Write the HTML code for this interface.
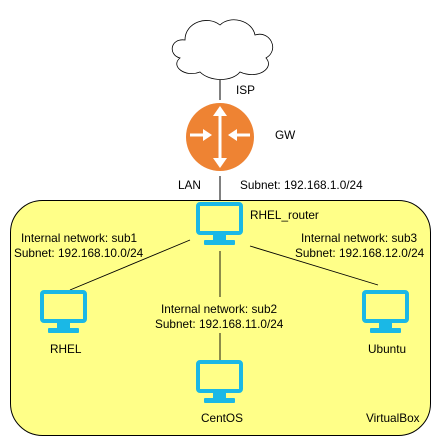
<!DOCTYPE html>
<html><head><style>
body{margin:0;width:441px;height:441px;background:#fff;overflow:hidden}
svg{display:block}
text{font-family:"Liberation Sans",sans-serif;font-size:11.8px;fill:#000}
</style></head><body>
<svg width="441" height="441" viewBox="0 0 441 441">
<rect x="10.5" y="200.5" width="420" height="235" rx="32" fill="#ffff88" stroke="#000" stroke-width="1"/>
<path d="M185,40 C170,38 168,55 180,58 C170,66 185,78 200,72 C210,82 232,82 240,72 C258,80 275,68 266,58 C280,50 270,30 255,35 C252,20 230,15 220,25 C208,15 185,22 185,40 Z" fill="#fff" stroke="#000" stroke-width="0.8"/>
<line x1="220" y1="80" x2="220" y2="100" stroke="#000"/>
<text x="236" y="94">ISP</text>
<circle cx="220" cy="137" r="34" fill="#ee8333"/>
<g fill="#fff" stroke="#fff" stroke-width="3">
<line x1="220" y1="112" x2="220" y2="162"/>
<line x1="190" y1="135" x2="207" y2="135"/>
<line x1="233" y1="135" x2="250" y2="135"/>
</g>
<g fill="#fff">
<polygon points="220,106 213,116 227,116"/>
<polygon points="220,168 213,158 227,158"/>
<polygon points="212,135 203,129 203,141"/>
<polygon points="228,135 237,129 237,141"/>
</g>
<text x="275" y="139">GW</text>
<line x1="220" y1="176" x2="220" y2="200" stroke="#000"/>
<text x="178" y="189">LAN</text>
<text x="240" y="189">Subnet: 192.168.1.0/24</text>
<g stroke="#000" stroke-width="0.9">
<line x1="190" y1="240" x2="70" y2="290"/>
<line x1="220" y1="251" x2="220" y2="297"/>
<line x1="220" y1="333" x2="220" y2="360"/>
<line x1="250" y1="246" x2="378" y2="285"/>
</g>
<defs>
<g id="mon">
<rect x="2" y="2" width="43" height="29" rx="2" fill="none" stroke="#1ab8e6" stroke-width="4"/>
<rect x="17" y="32" width="13" height="7" fill="#1ab8e6"/>
<rect x="8" y="38" width="31" height="5" rx="1" fill="#1ab8e6"/>
</g>
</defs>
<use href="#mon" x="196" y="202"/>
<use href="#mon" x="40" y="290"/>
<use href="#mon" x="362" y="290"/>
<use href="#mon" x="196" y="360"/>
<text x="250" y="219">RHEL_router</text>
<text x="21" y="242">Internal network: sub1</text>
<text x="14" y="257">Subnet: 192.168.10.0/24</text>
<text x="301" y="242">Internal network: sub3</text>
<text x="295" y="257">Subnet: 192.168.12.0/24</text>
<text x="161" y="313">Internal network: sub2</text>
<text x="155" y="328">Subnet: 192.168.11.0/24</text>
<text x="50" y="353">RHEL</text>
<text x="368" y="353">Ubuntu</text>
<text x="201" y="422">CentOS</text>
<text x="366" y="422">VirtualBox</text>
</svg>
</body></html>
